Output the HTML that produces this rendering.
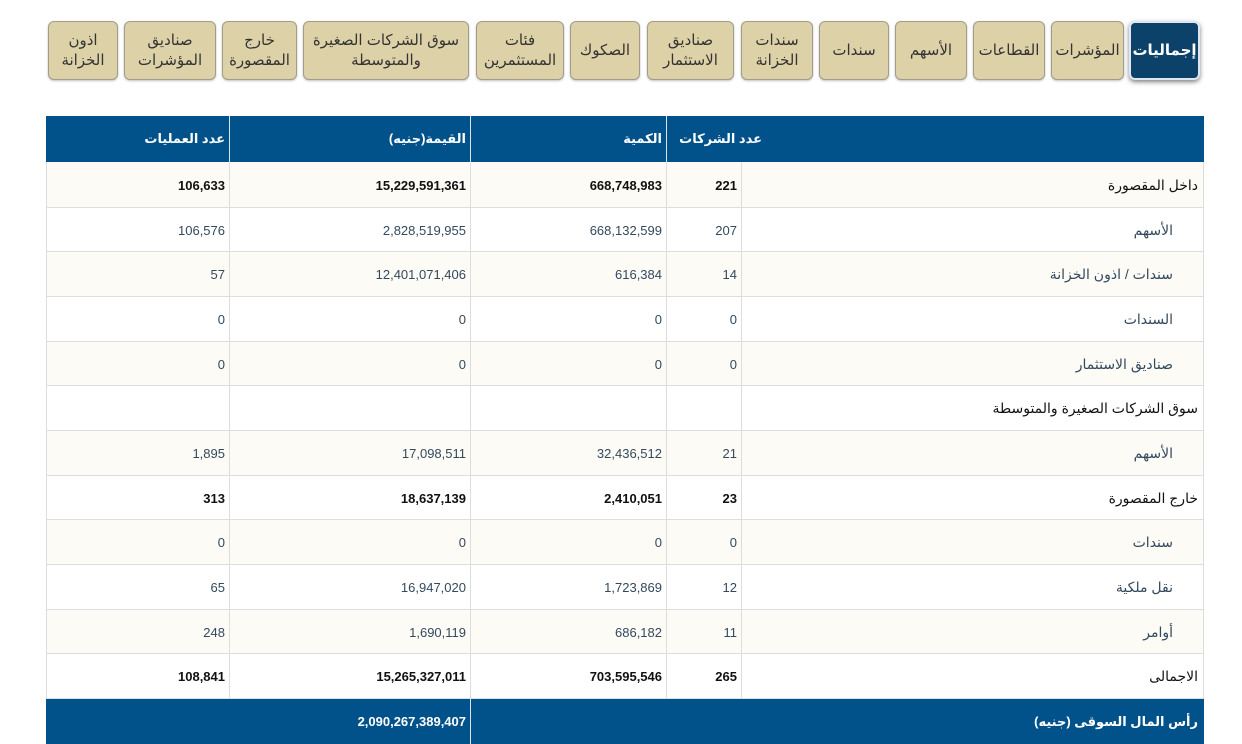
<!DOCTYPE html>
<html><head><meta charset="utf-8"><style>
*{margin:0;padding:0;box-sizing:border-box}
body{width:1242px;height:744px;background:#fff;position:relative;overflow:hidden;font-family:"Liberation Sans","Noto Sans CJK SC","DejaVu Sans",sans-serif;}
.tab{position:absolute;top:21px;height:59px;background:#ddd1a8;border:1.5px solid #a39c8a;border-radius:6px;display:flex;align-items:center;justify-content:center;text-align:center;font-size:15px;line-height:20px;color:#333;box-shadow:0 1px 2px rgba(0,0,0,.25);direction:rtl;white-space:nowrap}
.tab.act{background:#0c416a;color:#fff;font-weight:bold;border:2px solid #dfe6ee;box-shadow:0 2px 5px rgba(0,0,0,.5)}
.hdr{position:absolute;left:46px;width:1158px;background:#01528a}
.c{position:absolute;font-size:13px;display:flex;align-items:center;color:#34495e;direction:rtl;white-space:nowrap}
.n{justify-content:flex-start;padding-right:4px}
.row{position:absolute;left:46px;width:1158px;border-bottom:1px solid #ddd}
.vl{position:absolute;width:1px;background:#ddd}
.b{font-weight:bold;color:#111}
.h{color:#fff;font-weight:bold;font-size:13px}
</style></head><body>
<div class="tab" style="left:48px;width:70px">اذون<br>الخزانة</div>
<div class="tab" style="left:124px;width:92px">صناديق<br>المؤشرات</div>
<div class="tab" style="left:222px;width:75px">خارج<br>المقصورة</div>
<div class="tab" style="left:303px;width:166px">سوق الشركات الصغيرة<br>والمتوسطة</div>
<div class="tab" style="left:476px;width:88px">فئات<br>المستثمرين</div>
<div class="tab" style="left:570px;width:70px">الصكوك</div>
<div class="tab" style="left:647px;width:87px">صناديق<br>الاستثمار</div>
<div class="tab" style="left:741px;width:72px">سندات<br>الخزانة</div>
<div class="tab" style="left:819px;width:70px">سندات</div>
<div class="tab" style="left:895px;width:72px">الأسهم</div>
<div class="tab" style="left:973px;width:72px">القطاعات</div>
<div class="tab" style="left:1051px;width:73px">المؤشرات</div>
<div class="tab act" style="left:1129px;width:71px">إجماليات</div>

<div class="hdr" style="top:116px;height:46px"></div>
<div class="vl" style="left:229px;top:116px;height:46px;background:#dbe4ee"></div>
<div class="vl" style="left:470px;top:116px;height:46px;background:#dbe4ee"></div>
<div class="vl" style="left:666px;top:116px;height:46px;background:#dbe4ee"></div>
<div class="c h n" style="left:46px;width:183px;top:116px;height:46px">عدد العمليات</div>
<div class="c h n" style="left:229px;width:241px;top:116px;height:46px">القيمة(جنيه)</div>
<div class="c h n" style="left:470px;width:196px;top:116px;height:46px">الكمية</div>
<div class="c h" style="left:680px;width:82px;top:116px;height:46px">عدد الشركات</div>

<div id="rows"></div>
<script>
const ys=[162,208,252,297,342,386,431,476,520,565,610,654,699];
const data=[
["داخل المقصورة","221","668,748,983","15,229,591,361","106,633",1],
["الأسهم","207","668,132,599","2,828,519,955","106,576",0],
["سندات / اذون الخزانة","14","616,384","12,401,071,406","57",0],
["السندات","0","0","0","0",0],
["صناديق الاستثمار","0","0","0","0",0],
["سوق الشركات الصغيرة والمتوسطة","","","","",2],
["الأسهم","21","32,436,512","17,098,511","1,895",0],
["خارج المقصورة","23","2,410,051","18,637,139","313",1],
["سندات","0","0","0","0",0],
["نقل ملكية","12","1,723,869","16,947,020","65",0],
["أوامر","11","686,182","1,690,119","248",0],
["الاجمالى","265","703,595,546","15,265,327,011","108,841",1]];
let h='';
const cols=[[741,463],[666,75],[470,196],[229,241],[46,183]];
data.forEach((r,i)=>{const t=ys[i],ht=ys[i+1]-t;
h+=`<div class="row" style="top:${t}px;height:${ht}px;background:${i%2==0?'#fcfbf6':'#fff'}"></div>`;
cols.forEach((c,j)=>{
 let cls='c'+(r[5]?' b':'');
 let st=`left:${c[0]}px;width:${c[1]}px;top:${t}px;height:${ht}px;`;
 if(j==0){st+=`padding-right:${r[5]?6:31}px;font-size:14px;font-weight:normal;`}else cls+=' n';
 h+=`<div class="${cls}" style="${st}">${r[j]}</div>`;});
});
[229,470,666,741].forEach(x=>h+=`<div class="vl" style="left:${x}px;top:162px;height:537px"></div>`);
h+=`<div class="vl" style="left:46px;top:162px;height:537px"></div><div class="vl" style="left:1203px;top:162px;height:537px"></div>`;
h+=`<div class="hdr" style="top:699px;height:45px"></div>`;
h+=`<div class="vl" style="left:470px;top:699px;height:45px;background:#dbe4ee"></div>`;
h+=`<div class="c h n" style="left:229px;width:241px;top:699px;height:45px;font-size:13px">2,090,267,389,407</div>`;
h+=`<div class="c h" style="left:741px;width:463px;top:699px;height:45px;padding-right:6px;font-size:13px">رأس المال السوقى (جنيه)</div>`;
document.getElementById('rows').innerHTML=h;
</script>
</body></html>
